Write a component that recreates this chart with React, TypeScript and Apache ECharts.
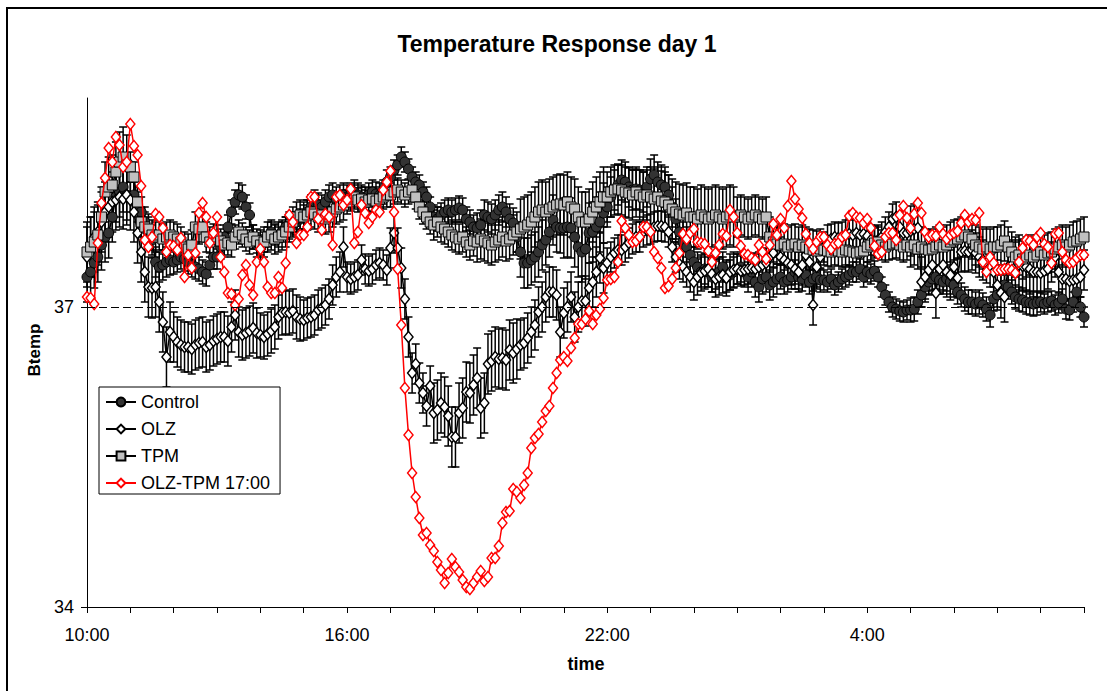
import React, { useEffect, useRef } from "react";
import * as echarts from "echarts";

// ---- data (5-minute samples from 10:00 to 9:00 next day) ----
const STEP_MIN = 5;
const seriesNames = ["Control", "OLZ", "TPM", "OLZ-TPM 17:00"];
const xLabelMinutes = [0, 360, 720, 1080];
const xTickLabels = ["10:00", "16:00", "22:00", "4:00"];
const yTickValues = [34, 37];
const referenceLine = 37;

const control = [
  37.3, 37.35, 37.44, 37.5, 37.62, 37.7, 37.74, 37.9, 38.1, 38.15, 38.2, 38.12,
  38.1, 38.12, 38.0, 37.95, 37.85, 37.75, 37.67, 37.45, 37.4, 37.42, 37.45, 37.47,
  37.45, 37.47, 37.5, 37.48, 37.45, 37.42, 37.4, 37.38, 37.35, 37.33, 37.42, 37.5,
  37.5, 37.6, 37.7, 37.8, 37.95, 38.05, 38.12, 38.1, 38.0, 37.92, 37.7, 37.62,
  37.62, 37.65, 37.7, 37.75, 37.72, 37.7, 37.75, 37.8, 37.78, 37.82, 37.85, 37.88,
  37.9, 37.95, 38.0, 38.05, 38.02, 38.0, 38.05, 38.1, 38.12, 38.08, 38.1, 38.12,
  38.1, 38.12, 38.15, 38.12, 38.1, 38.08, 38.12, 38.15, 38.13, 38.12, 38.15, 38.25,
  38.3, 38.37, 38.42, 38.5, 38.45, 38.38, 38.3, 38.25, 38.22, 38.15, 38.1, 38.0,
  37.9, 37.88, 37.92, 37.95, 37.97, 37.95, 37.97, 37.99, 37.97, 37.88, 37.85, 37.8,
  37.79, 37.82, 37.92, 37.9, 37.88, 37.92, 37.97, 38.0, 37.95, 37.88, 37.84, 37.7,
  37.55, 37.44, 37.44, 37.47, 37.5, 37.55, 37.62, 37.67, 37.75, 37.87, 37.8, 37.79,
  37.79, 37.8, 37.79, 37.7, 37.6, 37.55, 37.58, 37.74, 37.75, 37.8, 37.85, 37.94,
  38.0, 38.1, 38.17, 38.22, 38.27, 38.25, 38.2, 38.17, 38.18, 38.17, 38.15, 38.2,
  38.28, 38.32, 38.25, 38.22, 38.2, 38.12, 38.0, 37.88, 37.75, 37.65, 37.6, 37.52,
  37.45, 37.4, 37.35, 37.38, 37.35, 37.3, 37.33, 37.35, 37.4, 37.3, 37.32, 37.35,
  37.38, 37.4, 37.35, 37.3, 37.35, 37.25, 37.2, 37.28, 37.3, 37.22, 37.25, 37.28,
  37.3, 37.25, 37.27, 37.3, 37.35, 37.3, 37.28, 37.32, 37.25, 37.28, 37.3, 37.27,
  37.27, 37.25, 37.28, 37.22, 37.25, 37.28, 37.3, 37.32, 37.35, 37.35, 37.38, 37.3,
  37.35, 37.33, 37.36, 37.3, 37.2, 37.12, 37.05, 37.0, 36.98, 36.96, 36.95, 36.97,
  36.97, 36.98, 37.05, 37.12, 37.2, 37.25, 37.28, 37.3, 37.27, 37.25, 37.28, 37.25,
  37.22, 37.15, 37.12, 37.08, 37.05, 37.05, 37.03, 37.05, 37.02, 36.98, 36.92, 37.08,
  37.12, 37.2, 37.22, 37.2, 37.15, 37.1, 37.08, 37.07, 37.05, 37.04, 37.03, 37.04,
  37.05, 37.03, 37.05, 37.06, 37.02, 37.04, 37.08, 36.98, 36.97, 37.05, 37.15, 37.0,
  36.9,
];

const olz = [
  37.5, 37.6, 37.7, 37.75, 37.85, 37.95, 38.0, 38.05, 38.07, 38.1, 38.08, 38.12,
  38.07, 37.95, 37.74, 37.55, 37.35, 37.2, 37.19, 37.2, 37.05, 36.85, 36.5, 36.75,
  36.7, 36.65, 36.62, 36.6, 36.6, 36.58, 36.62, 36.64, 36.65, 36.6, 36.62, 36.66,
  36.68, 36.7, 36.7, 36.66, 36.8, 36.92, 36.75, 36.72, 36.74, 36.76, 36.79, 36.74,
  36.72, 36.7, 36.73, 36.76, 36.8, 36.9, 36.94, 36.95, 36.94, 36.96, 36.9, 36.88,
  36.87, 36.89, 36.9, 36.92, 36.97, 36.99, 37.02, 37.08, 37.22, 37.3, 37.35, 37.6,
  37.3, 37.28, 37.3, 37.32, 37.47, 37.38, 37.36, 37.38, 37.42, 37.44, 37.42, 37.37,
  37.59, 37.74, 37.59, 37.39, 37.08, 36.7, 36.34, 36.43, 36.24, 36.14, 36.01, 36.21,
  35.94, 35.97, 36.04, 36.0, 35.91, 35.7, 35.7, 35.94, 35.99, 36.15, 36.14, 36.22,
  36.29, 35.99, 36.04, 36.43, 36.46, 36.5, 36.48, 36.49, 36.47, 36.57, 36.54, 36.58,
  36.62, 36.64, 36.69, 36.75, 36.82, 36.95, 37.0, 37.1, 37.15, 37.15, 37.12, 36.75,
  36.94, 37.0, 37.1, 36.9, 37.0, 37.06, 37.06, 37.19, 37.25, 37.35, 37.49, 37.39,
  37.44, 37.5, 37.54, 37.57, 37.57, 37.6, 37.64, 37.68, 37.7, 37.7, 37.75, 37.77,
  37.78, 37.8, 37.81, 37.81, 37.8, 37.75, 37.6, 37.5, 37.43, 37.4, 37.35, 37.3,
  37.25, 37.3, 37.34, 37.36, 37.38, 37.33, 37.28, 37.3, 37.32, 37.29, 37.35, 37.37,
  37.38, 37.36, 37.37, 37.38, 37.39, 37.38, 37.4, 37.42, 37.44, 37.5, 37.54, 37.65,
  37.5, 37.47, 37.44, 37.42, 37.38, 37.35, 37.42, 37.52, 37.45, 37.02, 37.4, 37.5,
  37.6, 37.67, 37.68, 37.7, 37.69, 37.7, 37.72, 37.73, 37.72, 37.74, 37.72, 37.73,
  37.71, 37.67, 37.66, 37.67, 37.7, 37.75, 37.8, 37.88, 37.9, 37.8, 37.74, 37.74,
  37.76, 37.78, 37.79, 37.25, 37.3, 37.37, 37.42, 37.14, 37.38, 37.42, 37.35, 37.32,
  37.4, 37.29, 37.55, 37.56, 37.55, 37.57, 37.54, 37.5, 37.47, 37.44, 37.4, 37.35,
  37.22, 37.14, 37.1, 37.4, 37.42, 37.4, 37.42, 37.41, 37.4, 37.38, 37.35, 37.35,
  37.34, 37.36, 37.38, 37.45, 37.5, 37.35, 37.28, 37.28, 37.26, 37.27, 37.28, 37.3,
  37.37,
];

const tpm = [
  37.55, 37.6, 37.65, 37.72, 37.9, 38.15, 38.2, 38.22, 38.35, 38.45, 38.5, 38.42,
  38.4, 38.3, 38.05, 37.85, 37.8, 37.78, 37.72, 37.7, 37.72, 37.68, 37.7, 37.72,
  37.7, 37.68, 37.65, 37.6, 37.58, 37.62, 37.8, 37.78, 37.8, 37.7, 37.65, 37.68,
  37.7, 37.66, 37.62, 37.64, 37.62, 37.7, 37.75, 37.72, 37.68, 37.65, 37.7, 37.66,
  37.62, 37.65, 37.7, 37.72, 37.68, 37.7, 37.72, 37.75, 37.8, 37.85, 37.9, 37.92,
  37.9, 37.92, 37.95, 37.93, 37.9, 37.92, 37.88, 37.9, 37.95, 37.98, 38.0, 38.02,
  38.05, 38.08, 38.1, 38.07, 38.08, 38.05, 38.07, 38.08, 38.06, 38.08, 38.1, 38.12,
  38.12, 38.15, 38.17, 38.15, 38.12, 38.15, 38.17, 38.1, 38.0, 37.95, 37.9, 37.85,
  37.82, 37.85, 37.8, 37.78, 37.75, 37.72, 37.7, 37.68, 37.7, 37.65, 37.62, 37.66,
  37.65, 37.68, 37.66, 37.64, 37.62, 37.65, 37.67, 37.7, 37.66, 37.68, 37.72, 37.75,
  37.78, 37.8, 37.82, 37.85, 37.9, 37.95, 37.97, 37.95, 37.98, 38.0, 38.02, 38.03,
  38.02, 38.05, 38.0, 37.98, 37.9, 37.85, 37.85, 37.88, 37.95, 38.0, 38.05, 38.1,
  38.1, 38.15, 38.17, 38.18, 38.17, 38.15, 38.14, 38.12, 38.15, 38.12, 38.1, 38.12,
  38.1, 38.08, 38.1, 38.06, 38.05, 38.02, 37.98, 37.95, 37.93, 37.92, 37.94, 37.9,
  37.9, 37.88, 37.92, 37.9, 37.88, 37.9, 37.92, 37.9, 37.88, 37.9, 37.92, 37.9,
  37.9, 37.92, 37.9, 37.88, 37.9, 37.92, 37.9, 37.88, 37.9, 37.7, 37.65, 37.63,
  37.62, 37.63, 37.6, 37.62, 37.63, 37.6, 37.62, 37.6, 37.58, 37.57, 37.56, 37.58,
  37.57, 37.56, 37.55, 37.57, 37.56, 37.55, 37.57, 37.56, 37.55, 37.54, 37.55, 37.56,
  37.6, 37.62, 37.64, 37.65, 37.62, 37.6, 37.62, 37.63, 37.64, 37.62, 37.6, 37.62,
  37.6, 37.62, 37.58, 37.6, 37.58, 37.57, 37.58, 37.6, 37.62, 37.6, 37.62, 37.65,
  37.67, 37.68, 37.7, 37.72, 37.7, 37.68, 37.62, 37.6, 37.58, 37.6, 37.58, 37.6,
  37.6, 37.62, 37.66, 37.6, 37.55, 37.5, 37.52, 37.48, 37.5, 37.52, 37.5, 37.52,
  37.55, 37.52, 37.54, 37.55, 37.58, 37.6, 37.62, 37.6, 37.62, 37.65, 37.66, 37.68,
  37.7,
];

const olzTpm = [
  37.1, 37.09, 37.03, 37.64, 38.04, 38.29, 38.59, 38.45, 38.7, 38.62, 38.4, 38.45,
  38.83, 38.61, 38.52, 38.21, 37.67, 37.6, 37.7, 37.93, 37.9, 37.79, 37.55, 37.62,
  37.61, 37.57, 37.69, 37.3, 37.52, 37.39, 37.54, 37.94, 38.04, 37.9, 37.64, 37.74,
  37.9, 37.5, 37.35, 37.14, 37.13, 37.02, 37.08, 37.32, 37.42, 37.22, 37.12, 37.45,
  37.58, 37.45, 37.2, 37.14, 37.14, 37.3, 37.19, 37.44, 37.92, 37.85, 37.64, 37.72,
  37.72, 37.8, 38.1, 38.1, 37.88, 37.77, 37.93, 37.9, 37.62, 38.1, 38.12, 38.02,
  38.07, 38.18, 37.64, 37.75, 38.02, 37.94, 37.84, 37.9, 37.97, 37.95, 38.17, 38.25,
  38.36, 37.95, 37.38, 36.82, 36.19, 35.72, 35.34, 35.1, 34.89, 34.72, 34.74, 34.62,
  34.56, 34.45, 34.37, 34.24, 34.34, 34.48, 34.4, 34.35, 34.27, 34.2, 34.18, 34.24,
  34.3, 34.36, 34.26, 34.3, 34.49, 34.49, 34.61, 34.84, 34.95, 34.96, 35.18, 35.15,
  35.09, 35.22, 35.34, 35.59, 35.69, 35.73, 35.85, 35.96, 36.01, 36.19, 36.34, 36.47,
  36.5, 36.46, 36.59, 36.69, 36.83, 36.83, 36.88, 36.96, 36.83, 36.92, 36.98, 37.09,
  37.27, 37.28, 37.3, 37.45, 37.86, 37.79, 37.72, 37.65, 37.66, 37.7, 37.8, 37.8,
  37.75, 37.55, 37.49, 37.39, 37.19, 37.21, 37.28, 37.39, 37.54, 37.73, 37.68, 37.74,
  37.78, 37.65, 37.64, 37.63, 37.56, 37.45, 37.54, 37.62, 37.73, 37.71, 37.97, 37.9,
  37.74, 37.61, 37.53, 37.52, 37.49, 37.47, 37.62, 37.55, 37.48, 37.62, 37.83, 37.72,
  37.88, 37.79, 38.01, 38.26, 38.08, 37.98, 37.89, 37.73, 37.64, 37.58, 37.65, 37.7,
  37.7, 37.62, 37.58, 37.63, 37.64, 37.7, 37.72, 37.91, 37.94, 37.9, 37.89, 37.84,
  37.88, 37.79, 37.61, 37.53, 37.55, 37.7, 37.74, 37.74, 37.67, 37.92, 38.01, 37.89,
  37.79, 37.93, 38.04, 37.94, 37.75, 37.7, 37.72, 37.71, 37.8, 37.73, 37.68, 37.72,
  37.74, 37.76, 37.84, 37.92, 37.85, 37.88, 37.87, 37.94, 37.45, 37.35, 37.5, 37.44,
  37.37, 37.37, 37.38, 37.38, 37.37, 37.34, 37.45, 37.59, 37.67, 37.66, 37.62, 37.7,
  37.74, 37.63, 37.6, 37.44, 37.73, 37.74, 37.55, 37.47, 37.44, 37.45, 37.49, 37.52,
  37.52,
];

// standard errors, read per hour (10:00 ... 8:00)
const controlErrByHour = [0.25, 0.15, 0.12, 0.12, 0.1, 0.12, 0.12, 0.1, 0.12, 0.15, 0.25, 0.3, 0.2, 0.2, 0.15, 0.15, 0.12, 0.1, 0.1, 0.12, 0.12, 0.12, 0.1];
const olzErrByHour = [0.3, 0.3, 0.25, 0.25, 0.22, 0.2, 0.15, 0.2, 0.3, 0.3, 0.25, 0.25, 0.15, 0.15, 0.18, 0.15, 0.2, 0.15, 0.15, 0.25, 0.2, 0.25, 0.2];
const tpmErrByHour = [0.3, 0.15, 0.15, 0.12, 0.15, 0.15, 0.12, 0.12, 0.15, 0.2, 0.3, 0.3, 0.25, 0.3, 0.3, 0.2, 0.2, 0.15, 0.15, 0.2, 0.2, 0.2, 0.2];

const FONT = "'Liberation Sans', Arial, Helvetica, sans-serif";

const toXY = (arr: number[]) => arr.map((v, i) => [i * STEP_MIN, v]);
const toErr = (arr: number[], errs: number[]) =>
  arr.map((v, i) => {
    const e = errs[Math.min(Math.floor((i * STEP_MIN) / 60), errs.length - 1)];
    return [i * STEP_MIN, v - e, v + e];
  });

const errorRender = (params: any, api: any) => {
  const x = api.value(0);
  const lo = api.coord([x, api.value(1)]);
  const hi = api.coord([x, api.value(2)]);
  const cap = 4;
  const style = { stroke: "#000", lineWidth: 1.5 };
  return {
    type: "group",
    children: [
      { type: "line", shape: { x1: hi[0], y1: hi[1], x2: lo[0], y2: lo[1] }, style },
      { type: "line", shape: { x1: hi[0] - cap, y1: hi[1], x2: hi[0] + cap, y2: hi[1] }, style },
      { type: "line", shape: { x1: lo[0] - cap, y1: lo[1], x2: lo[0] + cap, y2: lo[1] }, style },
    ],
  };
};

const errSeries = (name: string, data: number[][]) => ({
  type: "custom",
  name,
  coordinateSystem: "cartesian2d",
  renderItem: errorRender,
  encode: { x: 0, y: [1, 2] },
  data,
  silent: true,
  z: 2,
});

export default function App() {
  const ref = useRef<HTMLDivElement>(null);
  useEffect(() => {
    if (!ref.current) return;
    const chart = echarts.init(ref.current, undefined, { renderer: "svg" });
    chart.setOption({
      animation: false,
      backgroundColor: "#fff",
      textStyle: { fontFamily: FONT },
      grid: { left: 87, right: 23, top: 98, bottom: 84, containLabel: false, outerBoundsMode: "none" },
      xAxis: {
        type: "value",
        min: 0,
        max: 1380,
        interval: 60,
        axisLine: { show: true, onZero: false, lineStyle: { color: "#000", width: 1 } },
        axisTick: { show: true, length: 6, lineStyle: { color: "#000" } },
        axisLabel: {
          customValues: xLabelMinutes,
          formatter: (v: number) => xTickLabels[xLabelMinutes.indexOf(v)] ?? "",
          fontSize: 18,
          color: "#000",
          fontFamily: FONT,
          margin: 19,
        },
        splitLine: { show: false },
      },
      yAxis: {
        type: "value",
        min: 34,
        max: 39.09,
        axisLine: { show: true, lineStyle: { color: "#000", width: 1 } },
        axisTick: { show: true, length: 6, customValues: yTickValues, lineStyle: { color: "#000" } },
        axisLabel: { customValues: yTickValues, fontSize: 18, color: "#000", fontFamily: FONT, margin: 13 },
        splitLine: { show: false },
      },
      legend: {
        orient: "vertical",
        left: 99,
        top: 387,
        itemWidth: 30,
        itemHeight: 11,
        itemGap: 9,
        padding: [6, 10, 2, 6],
        borderColor: "#000",
        borderWidth: 1,
        borderRadius: 0,
        backgroundColor: "#fff",
        selectedMode: false,
        data: seriesNames,
        textStyle: { fontSize: 18, color: "#000", fontFamily: FONT, lineHeight: 18 },
      },
      graphic: [
        {
          type: "rect",
          silent: true,
          shape: { x: 7, y: 8, width: 1115, height: 700 },
          style: { fill: "none", stroke: "#000", lineWidth: 2 },
        },
        {
          type: "text",
          x: 557,
          y: 44,
          style: {
            text: "Temperature Response day 1",
            font: `bold 23px ${FONT}`,
            fill: "#000",
            align: "center",
            verticalAlign: "middle",
          },
        },
        {
          type: "text",
          x: 586,
          y: 664,
          style: { text: "time", font: `bold 18px ${FONT}`, fill: "#000", align: "center", verticalAlign: "middle" },
        },
        {
          type: "text",
          x: 34,
          y: 350,
          rotation: Math.PI / 2,
          style: { text: "Btemp", font: `bold 17px ${FONT}`, fill: "#000", align: "center", verticalAlign: "middle" },
        },
      ],
      series: [
        errSeries("controlErr", toErr(control, controlErrByHour)),
        {
          type: "line",
          name: seriesNames[0],
          data: toXY(control),
          showSymbol: true,
          showAllSymbol: true,
          symbol: "circle",
          symbolSize: 10,
          lineStyle: { color: "#000", width: 1.5 },
          itemStyle: { color: "#333333", borderColor: "#000", borderWidth: 1 },
          z: 3,
          markLine: {
            silent: true,
            symbol: "none",
            label: { show: false },
            lineStyle: { color: "#000", width: 1, type: [8, 4] },
            data: [{ yAxis: referenceLine }],
          },
        },
        errSeries("olzErr", toErr(olz, olzErrByHour)),
        {
          type: "line",
          name: seriesNames[1],
          data: toXY(olz),
          showSymbol: true,
          showAllSymbol: true,
          symbol: "diamond",
          symbolSize: [9, 11],
          lineStyle: { color: "#000", width: 1.5 },
          itemStyle: { color: "#fff", borderColor: "#000", borderWidth: 1.5 },
          z: 3,
        },
        errSeries("tpmErr", toErr(tpm, tpmErrByHour)),
        {
          type: "line",
          name: seriesNames[2],
          data: toXY(tpm),
          showSymbol: true,
          showAllSymbol: true,
          symbol: "rect",
          symbolSize: 10,
          lineStyle: { color: "#000", width: 1.5 },
          itemStyle: { color: "#c0c0c0", borderColor: "#000", borderWidth: 1 },
          z: 3,
        },
        {
          type: "line",
          name: seriesNames[3],
          data: toXY(olzTpm),
          showSymbol: true,
          showAllSymbol: true,
          symbol: "diamond",
          symbolSize: [9, 11],
          lineStyle: { color: "#ff0000", width: 1.5 },
          itemStyle: { color: "#fff", borderColor: "#ff0000", borderWidth: 1.5 },
          z: 4,
        },
      ],
    });
    return () => chart.dispose();
  }, []);
  return (
    <div
      ref={ref}
      style={{ position: "absolute", left: 0, top: 0, width: 1107, height: 691, background: "#fff" }}
    />
  );
}
